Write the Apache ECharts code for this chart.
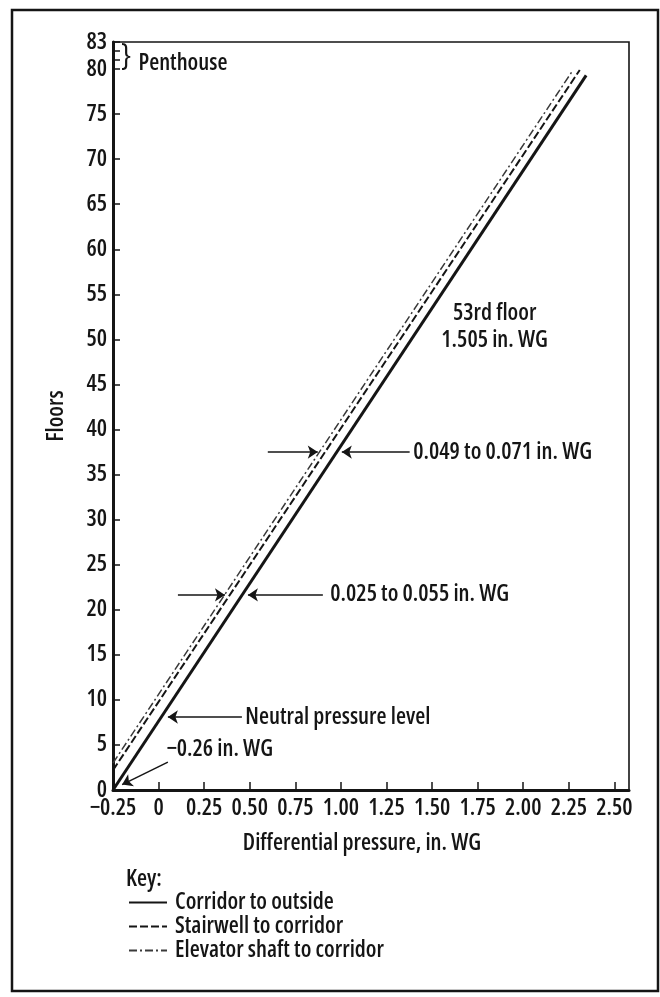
<!DOCTYPE html>
<html><head><meta charset="utf-8">
<script src="https://cdn.jsdelivr.net/npm/echarts@6/dist/echarts.min.js"></script>
<style>html,body{margin:0;padding:0;background:#fff}#c{width:660px;height:997px}</style>
</head><body><div id="c"></div>
<script>
// ---- data ----
const seriesNames = ['Corridor to outside', 'Stairwell to corridor', 'Elevator shaft to corridor'];
const corridorPressure = [-0.25, 2.345];
const corridorFloors = [0, 79.3];
const stairPressure = [-0.25, 2.31];
const stairFloors = [2.2, 79.9];
const elevPressure = [-0.25, 2.27];
const elevFloors = [3.0, 79.8];

const xTickValues = [-0.25, 0, 0.25, 0.5, 0.75, 1.0, 1.25, 1.5, 1.75, 2.0, 2.25, 2.5];
const yTickValues = [0, 5, 10, 15, 20, 25, 30, 35, 40, 45, 50, 55, 60, 65, 70, 75, 80, 81, 82, 83];
const yLabelValues = [0, 5, 10, 15, 20, 25, 30, 35, 40, 45, 50, 55, 60, 65, 70, 75, 80, 83];

// annotations (anchor in data units)
const noteTexts = ['}', 'Penthouse', '53rd floor\n1.505 in. WG', '0.049 to 0.071 in. WG', '0.025 to 0.055 in. WG', 'Neutral pressure level', '\u22120.26 in. WG'];
const notePressure = [-0.178, -0.113, 1.843, 1.394, 0.939, 0.473, 0.04];
const noteFloors = [81.4, 80.6, 51.4, 37.5, 21.65, 8.1, 4.45];

const arrowFromP = [0.599, 1.377, 0.106, 0.901, 0.457, 0.051];
const arrowFromF = [37.5, 37.5, 21.65, 21.65, 8.1, 3.1];
const arrowToP = [0.873, 1.005, 0.364, 0.490, 0.051, -0.20];
const arrowToF = [37.5, 37.5, 21.65, 21.65, 8.1, 0.6];

// ---- chart ----
const INK = '#151515';
const FS = 23;
const TXT = {fontFamily: "'Open Sans', Roboto, 'DejaVu Sans Condensed', sans-serif", fontStyle: 'condensed', fontWeight: 600, color: INK};
const zip = (a, b) => a.map((v, i) => [v, b[i]]);
const fmtX = v => {
  if (Math.abs(v) < 1e-9) return '0';
  if (v < 0) return '\u2212' + Math.abs(v).toFixed(2);
  return v.toFixed(2);
};

const chart = echarts.init(document.getElementById('c'), null, {renderer: 'canvas'});

const noteData = noteTexts.map((t, i) => {
  const centered = (i === 0 || i === 2);
  return {
    value: [notePressure[i], noteFloors[i]],
    label: Object.assign({}, TXT, {
      show: true,
      formatter: t,
      position: centered ? 'inside' : 'right',
      distance: 0,
      align: centered ? 'center' : 'left',
      verticalAlign: 'middle',
      fontSize: i === 0 ? 30 : FS,
      fontWeight: i === 0 ? 'normal' : 600,
      lineHeight: i === 2 ? 27 : undefined
    })
  };
});

const arrowData = arrowFromP.map((p, i) => [
  {coord: [p, arrowFromF[i]]},
  {coord: [arrowToP[i], arrowToF[i]]}
]);

chart.setOption({
  animation: false,
  backgroundColor: '#fff',
  title: {
    text: 'Key:', left: 126, top: 868, padding: 0,
    textStyle: Object.assign({}, TXT, {fontSize: FS})
  },
  legend: {
    data: seriesNames,
    orient: 'vertical', left: 128, top: 891, padding: 0,
    itemWidth: 38, itemHeight: 14, itemGap: 1,
    itemStyle: {opacity: 0},
    textStyle: Object.assign({}, TXT, {fontSize: FS, padding: [0, 0, 0, 3]}),
    selectedMode: false
  },
  grid: {
    left: 113, right: 31, top: 42, bottom: 207,
    show: true, borderColor: INK, borderWidth: 1.6, containLabel: false
  },
  xAxis: {
    type: 'value', min: -0.25, max: 2.58, interval: 0.25,
    axisLine: {show: true, onZero: false, lineStyle: {color: INK, width: 3}},
    axisTick: {show: true, inside: true, length: 8, customValues: xTickValues, lineStyle: {color: INK, width: 1.5}},
    axisLabel: Object.assign({}, TXT, {customValues: xTickValues, formatter: fmtX, fontSize: FS, margin: 7}),
    splitLine: {show: false},
    name: 'Differential pressure, in. WG', nameLocation: 'middle', nameGap: 42,
    nameTextStyle: Object.assign({}, TXT, {fontSize: FS, padding: [0, 18, 0, 0]})
  },
  yAxis: {
    type: 'value', min: 0, max: 83, interval: 5,
    axisLine: {show: true, onZero: false, lineStyle: {color: INK, width: 3}},
    axisTick: {show: true, inside: true, length: 7, customValues: yTickValues, lineStyle: {color: INK, width: 1.5}},
    axisLabel: Object.assign({}, TXT, {customValues: yLabelValues, fontSize: FS, margin: 6}),
    splitLine: {show: false},
    name: 'Floors', nameLocation: 'middle', nameGap: 45,
    nameTextStyle: Object.assign({}, TXT, {fontSize: FS})
  },
  series: [
    {
      name: seriesNames[0], type: 'line', data: zip(corridorPressure, corridorFloors),
      symbol: 'none', lineStyle: {color: INK, width: 3, type: 'solid'}, itemStyle: {color: INK}
    },
    {
      name: seriesNames[1], type: 'line', data: zip(stairPressure, stairFloors),
      symbol: 'none', lineStyle: {color: INK, width: 2, type: [8, 3]}, itemStyle: {color: INK}
    },
    {
      name: seriesNames[2], type: 'line', data: zip(elevPressure, elevFloors),
      symbol: 'none', lineStyle: {color: '#3a3a3a', width: 1.5, type: [8, 3, 2, 3]}, itemStyle: {color: '#3a3a3a'}
    },
    {
      name: 'notes', type: 'scatter', data: noteData, symbolSize: 1, silent: true,
      itemStyle: {color: 'rgba(0,0,0,0)', opacity: 1},
      markLine: {
        silent: true, symbol: ['none', 'arrow'], symbolSize: 10,
        label: {show: false},
        lineStyle: {color: INK, width: 1.5, type: 'solid', opacity: 1},
        itemStyle: {color: INK, opacity: 1},
        emphasis: {disabled: true},
        data: arrowData
      }
    }
  ],
  graphic: [{
    type: 'rect', silent: true, z: 100,
    shape: {x: 12, y: 10, width: 646, height: 981},
    style: {fill: 'none', stroke: INK, lineWidth: 2.5}
  }]
});
</script></body></html>
